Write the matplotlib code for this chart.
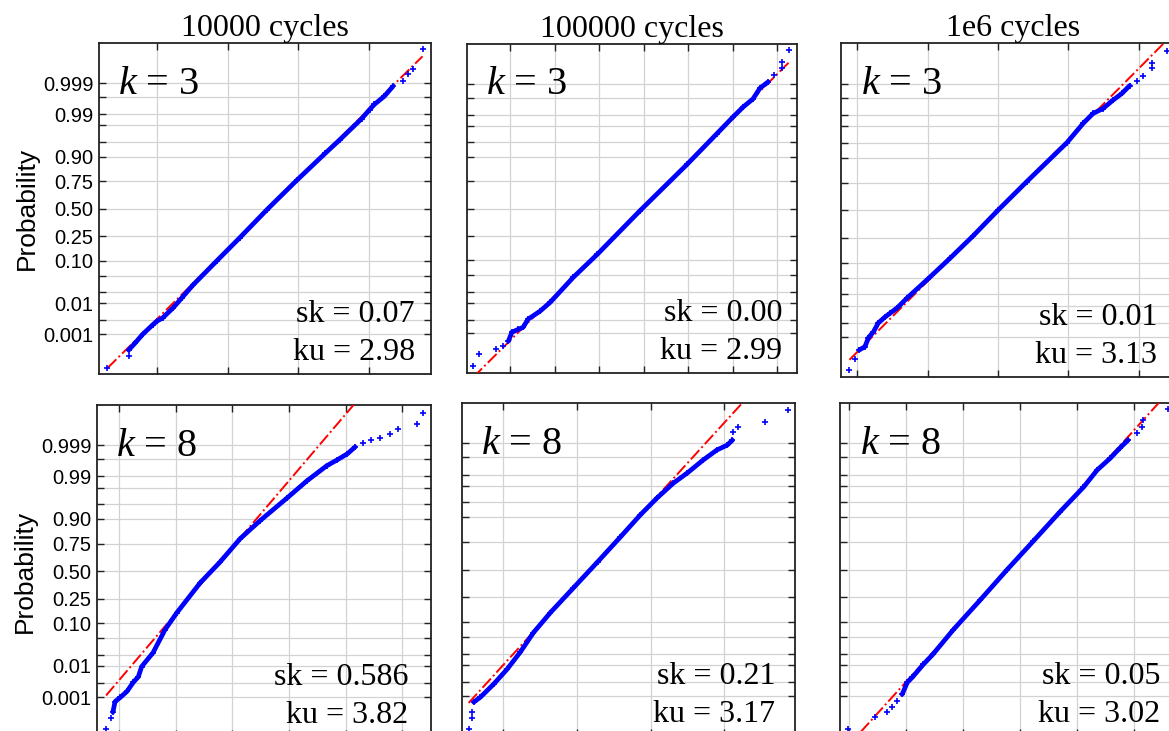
import matplotlib
matplotlib.use("Agg")
import matplotlib.pyplot as plt
from statistics import NormalDist

plt.rcParams['mathtext.fontset'] = 'custom'
plt.rcParams['mathtext.rm'] = 'Liberation Serif'
plt.rcParams['mathtext.it'] = 'Liberation Serif:italic'

# ---------------- data (x = sample value, q = normal quantile of plotting position) -------------
titles = ["10000 cycles", "100000 cycles", "1e6 cycles"]
k_labels = ["3", "3", "3", "8", "8", "8"]
sk_values = ["0.07", "0.00", "0.01", "0.586", "0.21", "0.05"]
ku_values = ["2.98", "2.99", "3.13", "3.82", "3.17", "3.02"]

# fitted normal reference line: mean and standard deviation
fit_mu = [1.58, 2.97, 2.00, 1.64, 1.18, 2.78]
fit_sigma = [0.581, 0.910, 0.578, 0.613, 0.506, 0.649]

# panel 1 (k=3, 1e4)
p1_x = [-0.40, -0.31, -0.20, -0.06, 0.00, 0.08, 0.23, 0.35, 0.51, 0.85, 1.17, 1.56, 1.98, 2.38, 2.59, 2.90, 3.01, 3.08, 3.22, 3.34]
p1_q = [-3.48, -3.31, -3.09, -2.86, -2.77, -2.69, -2.44, -2.20, -1.88, -1.28, -0.72, -0.02, 0.70, 1.36, 1.70, 2.22, 2.44, 2.57, 2.77, 3.01]
p1_tx = [-0.70, -0.40, 3.48, 3.55, 3.62, 3.76]
p1_tq = [-3.92, -3.63, 3.14, 3.31, 3.43, 3.93]

# panel 2 (k=3, 1e5)
p2_x = [-0.04, 0.04, 0.18, 0.29, 0.40, 0.67, 0.90, 1.42, 1.96, 2.92, 3.98, 4.65, 5.01, 5.24, 5.46, 5.62, 5.80]
p2_q = [-3.28, -3.06, -2.99, -2.94, -2.74, -2.54, -2.32, -1.70, -1.13, -0.05, 1.10, 1.86, 2.27, 2.52, 2.72, 2.99, 3.14]
p2_tx = [-0.83, -0.70, -0.31, -0.16, 5.93, 6.11, 6.11, 6.27]
p2_tq = [-3.90, -3.60, -3.48, -3.41, 3.31, 3.48, 3.63, 3.93]

# panel 3 (k=3, 1e6)
p3_x = [0.03, 0.11, 0.16, 0.23, 0.30, 0.40, 0.47, 0.57, 0.71, 1.01, 1.32, 1.65, 2.00, 2.41, 2.98, 3.21, 3.35, 3.49, 3.63, 3.76, 3.87]
p3_q = [-3.41, -3.33, -3.11, -2.97, -2.75, -2.60, -2.51, -2.38, -2.14, -1.67, -1.17, -0.62, 0.00, 0.70, 1.65, 2.12, 2.36, 2.48, 2.68, 2.85, 3.04]
p3_tx = [-0.11, -0.03, 3.97, 4.06, 4.18, 4.18, 4.40]
p3_tq = [-3.89, -3.63, 3.16, 3.28, 3.48, 3.60, 3.89]

# panel 4 (k=8, 1e4)
p4_x = [-0.11, -0.07, 0.02, 0.14, 0.25, 0.34, 0.40, 0.60, 0.81, 1.02, 1.43, 1.78, 2.14, 2.49, 2.97, 3.32, 3.67, 3.85, 4.03, 4.17]
p4_q = [-3.46, -3.20, -3.10, -2.95, -2.73, -2.59, -2.34, -2.00, -1.44, -1.02, -0.29, 0.22, 0.80, 1.24, 1.80, 2.22, 2.59, 2.73, 2.88, 3.05]
p4_tx = [-0.23, -0.15, 4.31, 4.45, 4.61, 4.79, 4.93, 5.27, 5.37]
p4_tq = [-3.88, -3.61, 3.15, 3.22, 3.27, 3.37, 3.49, 3.61, 3.88]

# panel 5 (k=8, 1e5)
p5_x = [-0.40, -0.31, -0.13, 0.05, 0.23, 0.41, 0.64, 0.95, 1.28, 1.59, 1.86, 2.09, 2.31, 2.50, 2.71, 2.90, 3.04, 3.11]
p5_q = [-3.24, -3.12, -2.80, -2.44, -2.02, -1.54, -1.05, -0.45, 0.19, 0.80, 1.34, 1.76, 2.12, 2.37, 2.68, 2.93, 3.05, 3.17]
p5_tx = [-0.47, -0.43, -0.42, 3.12, 3.19, 3.55, 3.87]
p5_tq = [-3.90, -3.63, -3.49, 3.37, 3.49, 3.61, 3.90]

# panel 6 (k=8, 1e6)
p6_x = [0.93, 1.02, 1.11, 1.30, 1.47, 1.82, 2.30, 2.77, 3.23, 3.70, 4.11, 4.35, 4.58, 4.75, 4.89]
p6_q = [-3.05, -2.76, -2.63, -2.32, -2.07, -1.48, -0.74, 0.00, 0.70, 1.42, 2.02, 2.44, 2.73, 2.98, 3.17]
p6_tx = [-0.02, 0.46, 0.67, 0.75, 0.84, 5.05, 5.14, 5.16, 5.60]
p6_tq = [-3.90, -3.61, -3.49, -3.37, -3.22, 3.34, 3.49, 3.66, 3.93]

prob_ticks = [0.001, 0.003, 0.01, 0.02, 0.05, 0.10, 0.25, 0.50, 0.75, 0.90, 0.95, 0.98, 0.99, 0.997, 0.999]
prob_labeled = ["0.001", "0.01", "0.10", "0.25", "0.50", "0.75", "0.90", "0.99", "0.999"]

body_x = [p1_x, p2_x, p3_x, p4_x, p5_x, p6_x]
body_q = [p1_q, p2_q, p3_q, p4_q, p5_q, p6_q]
tail_x = [p1_tx, p2_tx, p3_tx, p4_tx, p5_tx, p6_tx]
tail_q = [p1_tq, p2_tq, p3_tq, p4_tq, p5_tq, p6_tq]

# ---------------- layout ----------------
W, H = 1169, 731
fig = plt.figure(figsize=(W / 100, H / 100), dpi=100)

# (left, top, width, height) in pixels
boxes = [(99, 43, 332, 331), (467, 44, 330, 329), (841, 43, 345, 334),
         (97, 405, 334, 332), (462, 403, 333, 333), (840, 403, 345, 333)]
xlims = [(-0.82, 3.88), (-0.97, 6.45), (-0.23, 4.67),
         (-0.39, 5.51), (-0.56, 3.96), (-0.16, 5.89)]
nticks = [4, 7, 5, 6, 4, 6]
stat_right = [316, 315, 316, 311, 313, 320]   # px from axes left to right edge of sk/ku text

nd = NormalDist()
yt = [nd.inv_cdf(p) for p in prob_ticks]
ylabels = []
for p in prob_ticks:
    s = "%.3f" % p
    s = s.rstrip('0') if len(s.rstrip('0')) > 4 else "%.2f" % p
    ylabels.append(s if s in prob_labeled else "")

serif = 'Liberation Serif'
sans = 'Liberation Sans'

for i in range(6):
    l, t, w, h = boxes[i]
    ax = fig.add_axes([l / W, (H - t - h) / H, w / W, h / H])
    ax.set_xlim(*xlims[i])
    ax.set_ylim(-4.07, 4.08)
    ax.set_xticks(range(nticks[i]))
    ax.set_yticks(yt)
    ax.grid(True, color='#d2d2d2', lw=0.9)
    ax.set_axisbelow(True)
    ax.tick_params(direction='in', length=5, width=1, top=True, right=True,
                   labelbottom=False, color='#222222', pad=4)
    for sp in ax.spines.values():
        sp.set_color('#222222')
        sp.set_linewidth(1.3)
    if i % 3 == 0:
        ax.set_yticklabels(ylabels, fontsize=14.5, family=sans)
        ax.set_ylabel("Probability", fontsize=19, family=sans, labelpad=3)
    else:
        ax.set_yticklabels([])

    # reference line
    allx = body_x[i] + tail_x[i]
    x0, x1 = min(allx), max(allx)
    mu, sg = fit_mu[i], fit_sigma[i]
    ax.plot([x0, x1], [(x0 - mu) / sg, (x1 - mu) / sg], color='red', ls='-.', lw=1.4, zorder=3)

    # data
    ax.plot(body_x[i], body_q[i], color='#0000ff', lw=3.4, solid_capstyle='round',
            solid_joinstyle='round', zorder=4)
    ax.plot(body_x[i], body_q[i], ls='none', marker='+', ms=5, mew=1.2, color='#0000ff', zorder=4)
    ax.plot(tail_x[i], tail_q[i], ls='none', marker='+', ms=5, mew=1.2, color='#0000ff', zorder=4)

    ax.text(0.057, 0.932, r"$k$ = %s" % k_labels[i], transform=ax.transAxes,
            fontsize=29, family=serif, ha='left', va='top')
    xr = stat_right[i] / w
    ax.text(xr, 0.157, "sk = %s" % sk_values[i], transform=ax.transAxes,
            fontsize=23, family=serif, ha='right', va='baseline')
    ax.text(xr, 0.043, "ku = %s" % ku_values[i], transform=ax.transAxes,
            fontsize=23, family=serif, ha='right', va='baseline')
    if i < 3:
        ax.set_title(titles[i], fontsize=23, family=serif, pad=4)

fig.savefig("out.png", dpi=100)
